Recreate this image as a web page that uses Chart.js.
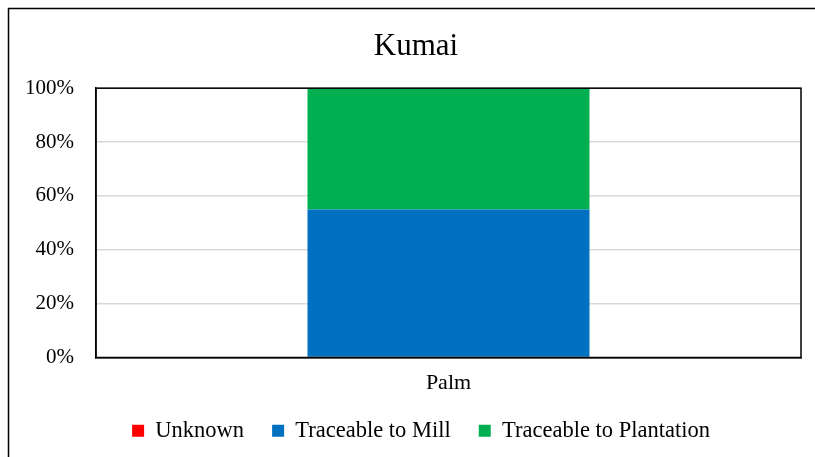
<!DOCTYPE html>
<html>
<head>
<meta charset="utf-8">
<script src="https://cdn.jsdelivr.net/npm/chart.js"></script>
<style>
  html, body { margin: 0; padding: 0; background: #fff; overflow: hidden; }
  #wrap { width: 838px; height: 458px; }
</style>
</head>
<body>
<div id="wrap"><canvas id="grafico" width="838" height="458"></canvas></div>
<script>
const categorias = ['Palm'];
const desconhecido = [0];
const rastreavelUsina = [55];
const rastreavelPlantacao = [45];
const ticksY = [0, 20, 40, 60, 80, 100];

const fonte = '"Liberation Serif", "Times New Roman", serif';

// moldura externa, borda da area do grafico e ajuste de titulo/legenda
const molduras = {
  id: 'molduras',
  afterLayout(chart) {
    const t = chart.titleBlock;
    t.left += 14; t.right += 14;
    const l = chart.legend;
    l.left += 19; l.right += 19;
    l.top -= 6; l.bottom -= 6;
  },
  beforeDraw(chart) {
    const ctx = chart.ctx;
    ctx.save();
    ctx.fillStyle = '#fff';
    ctx.fillRect(0, 0, chart.width, chart.height);
    ctx.strokeStyle = '#000';
    ctx.lineWidth = 1.5;
    ctx.beginPath();
    ctx.moveTo(8.5, chart.height + 5);
    ctx.lineTo(8.5, 8.5);
    ctx.lineTo(chart.width + 5, 8.5);
    ctx.stroke();
    ctx.restore();
  },
  afterDatasetsDraw(chart) {
    const a = chart.chartArea;
    const ctx = chart.ctx;
    ctx.save();
    ctx.strokeStyle = '#000';
    ctx.lineWidth = 1.5;
    ctx.strokeRect(a.left, a.top, a.right - a.left, a.bottom - a.top);
    ctx.restore();
  }
};

const ctx = document.getElementById('grafico').getContext('2d');
const chart = new Chart(ctx, {
  type: 'bar',
  data: {
    labels: categorias,
    datasets: [
      { label: 'Unknown', data: desconhecido, backgroundColor: '#FF0000' },
      { label: 'Traceable to Mill', data: rastreavelUsina, backgroundColor: '#0070C0' },
      { label: 'Traceable to Plantation', data: rastreavelPlantacao, backgroundColor: '#00B050' }
    ]
  },
  options: {
    responsive: false,
    animation: false,
    devicePixelRatio: 1,
    barPercentage: 0.4,
    categoryPercentage: 1,
    layout: { padding: { left: 3, right: 37, top: 20, bottom: 0 } },
    plugins: {
      title: {
        display: true,
        text: 'Kumai',
        color: '#000',
        font: { family: fonte, size: 31, weight: 'normal' },
        padding: { top: 8, bottom: 23 }
      },
      legend: {
        position: 'bottom',
        labels: {
          color: '#000',
          font: { family: fonte, size: 22.5 },
          boxWidth: 12,
          boxHeight: 12,
          padding: 28
        }
      },
      tooltip: { enabled: false }
    },
    scales: {
      x: {
        stacked: true,
        grid: { display: false, drawTicks: false },
        border: { display: true, color: '#000', width: 1.5 },
        ticks: {
          color: '#000',
          padding: 15,
          font: { family: fonte, size: 22, lineHeight: 1 }
        },
        afterFit: axis => { axis.height = 40; }
      },
      y: {
        stacked: true,
        min: 0,
        max: 100,
        afterBuildTicks: axis => { axis.ticks = ticksY.map(v => ({ value: v })); },
        grid: { color: '#D9D9D9', lineWidth: 1.5, drawTicks: false },
        border: { display: true, color: '#000', width: 1.5 },
        ticks: {
          color: '#000',
          padding: 22,
          font: { family: fonte, size: 21 },
          callback: v => v + '%'
        }
      }
    }
  },
  plugins: [molduras]
});
</script>
</body>
</html>
